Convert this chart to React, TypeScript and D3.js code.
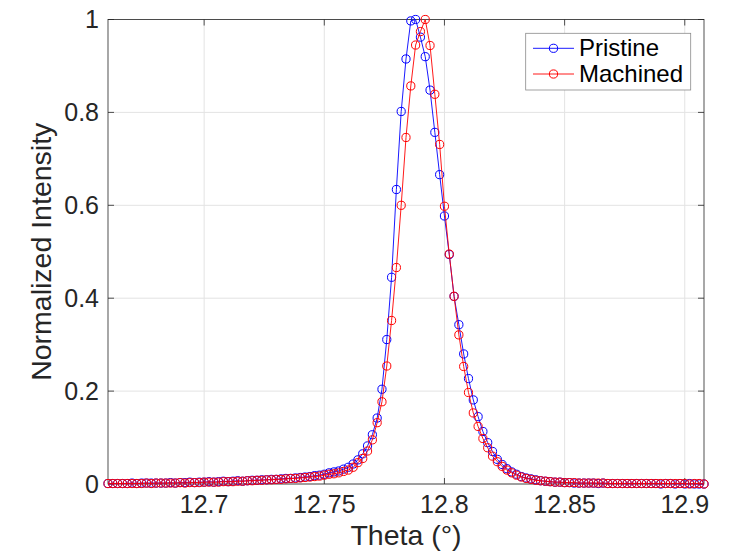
import React from "react";
import * as d3 from "d3";

const theta = [
  12.660, 12.662, 12.664, 12.666, 12.668, 12.670, 12.672, 12.674, 12.676, 12.678,
  12.680, 12.682, 12.684, 12.686, 12.688, 12.690, 12.692, 12.694, 12.696, 12.698,
  12.700, 12.702, 12.704, 12.706, 12.708, 12.710, 12.712, 12.714, 12.716, 12.718,
  12.720, 12.722, 12.724, 12.726, 12.728, 12.730, 12.732, 12.734, 12.736, 12.738,
  12.740, 12.742, 12.744, 12.746, 12.748, 12.750, 12.752, 12.754, 12.756, 12.758,
  12.760, 12.762, 12.764, 12.766, 12.768, 12.770, 12.772, 12.774, 12.776, 12.778,
  12.780, 12.782, 12.784, 12.786, 12.788, 12.790, 12.792, 12.794, 12.796, 12.798,
  12.800, 12.802, 12.804, 12.806, 12.808, 12.810, 12.812, 12.814, 12.816, 12.818,
  12.820, 12.822, 12.824, 12.826, 12.828, 12.830, 12.832, 12.834, 12.836, 12.838,
  12.840, 12.842, 12.844, 12.846, 12.848, 12.850, 12.852, 12.854, 12.856, 12.858,
  12.860, 12.862, 12.864, 12.866, 12.868, 12.870, 12.872, 12.874, 12.876, 12.878,
  12.880, 12.882, 12.884, 12.886, 12.888, 12.890, 12.892, 12.894, 12.896, 12.898,
  12.900, 12.902, 12.904, 12.906, 12.908,
];

const pristine = [
  0.001, 0.001, 0.001, 0.001, 0.001, 0.002, 0.001, 0.002, 0.002, 0.002,
  0.002, 0.002, 0.002, 0.003, 0.002, 0.003, 0.003, 0.004, 0.003, 0.004,
  0.004, 0.005, 0.004, 0.005, 0.006, 0.005, 0.006, 0.007, 0.006, 0.007,
  0.008, 0.008, 0.009, 0.009, 0.010, 0.010, 0.011, 0.012, 0.012, 0.013,
  0.014, 0.015, 0.016, 0.018, 0.019, 0.021, 0.024, 0.026, 0.028, 0.032,
  0.036, 0.043, 0.052, 0.065, 0.082, 0.106, 0.142, 0.204, 0.311, 0.445,
  0.634, 0.802, 0.915, 0.997, 1.000, 0.962, 0.920, 0.848, 0.757, 0.666,
  0.577, 0.494, 0.404, 0.343, 0.280, 0.227, 0.181, 0.145, 0.113, 0.089,
  0.070, 0.053, 0.042, 0.033, 0.026, 0.021, 0.016, 0.013, 0.011, 0.009,
  0.007, 0.006, 0.005, 0.004, 0.004, 0.003, 0.003, 0.002, 0.002, 0.002,
  0.002, 0.002, 0.001, 0.002, 0.001, 0.001, 0.001, 0.001, 0.001, 0.001,
  0.001, 0.001, 0.001, 0.001, 0.001, 0.000, 0.001, 0.001, 0.000, 0.001,
  0.000, 0.001, 0.000, 0.000, 0.000,
];

const machined = [
  0.001, 0.001, 0.001, 0.001, 0.001, 0.001, 0.001, 0.001, 0.002, 0.001,
  0.002, 0.002, 0.002, 0.002, 0.002, 0.003, 0.002, 0.003, 0.003, 0.003,
  0.004, 0.004, 0.004, 0.004, 0.005, 0.005, 0.005, 0.006, 0.006, 0.007,
  0.007, 0.008, 0.008, 0.009, 0.009, 0.010, 0.010, 0.011, 0.012, 0.012,
  0.013, 0.014, 0.015, 0.016, 0.017, 0.019, 0.021, 0.022, 0.024, 0.027,
  0.030, 0.036, 0.046, 0.055, 0.071, 0.095, 0.132, 0.177, 0.254, 0.352,
  0.466, 0.600, 0.746, 0.857, 0.945, 0.974, 1.000, 0.944, 0.839, 0.731,
  0.598, 0.495, 0.404, 0.321, 0.253, 0.197, 0.153, 0.124, 0.098, 0.078,
  0.060, 0.048, 0.038, 0.030, 0.024, 0.019, 0.015, 0.012, 0.010, 0.008,
  0.007, 0.006, 0.005, 0.004, 0.004, 0.003, 0.003, 0.003, 0.002, 0.002,
  0.002, 0.002, 0.002, 0.002, 0.001, 0.001, 0.001, 0.001, 0.001, 0.001,
  0.001, 0.001, 0.001, 0.001, 0.001, 0.001, 0.001, 0.001, 0.001, 0.001,
  0.001, 0.000, 0.001, 0.001, 0.000,
];

const xTicks = [12.7, 12.75, 12.8, 12.85, 12.9];
const xTickLabels = ["12.7", "12.75", "12.8", "12.85", "12.9"];
const yTicks = [0, 0.2, 0.4, 0.6, 0.8, 1];
const yTickLabels = ["0", "0.2", "0.4", "0.6", "0.8", "1"];
const seriesNames = ["Pristine", "Machined"];
const seriesColors = ["#0000ff", "#ff0000"];

const W = 735;
const H = 552;
const L = 108;
const R = 704;
const T = 19.5;
const B = 484;
const FONT = "'Liberation Sans', Arial, Helvetica, sans-serif";
const AXC = "#262626";

export default function App() {
  const x = d3.scaleLinear().domain([theta[0], theta[theta.length - 1]]).range([L, R]);
  const y = d3.scaleLinear().domain([0, 1]).range([B, T]);
  const line = d3
    .line<[number, number]>()
    .x((d) => x(d[0]))
    .y((d) => y(d[1]));
  const series = [pristine, machined].map((vals) =>
    theta.map((t, i) => [t, vals[i]] as [number, number])
  );
  const tickLen = 6;
  const mr = 4.1;

  return (
    <svg
      width={W}
      height={H}
      style={{ position: "absolute", left: 0, top: 0, background: "#fff" }}
      fontFamily={FONT}
    >
      <rect x={0} y={0} width={W} height={H} fill="#fff" />
      {xTicks.map((t) => (
        <line key={"gx" + t} x1={x(t)} x2={x(t)} y1={T} y2={B} stroke="#e3e3e3" strokeWidth={1} />
      ))}
      {yTicks.map((t) => (
        <line key={"gy" + t} x1={L} x2={R} y1={y(t)} y2={y(t)} stroke="#e3e3e3" strokeWidth={1} />
      ))}
      <rect x={L} y={T} width={R - L} height={B - T} fill="none" stroke={AXC} strokeWidth={0.8} />
      {xTicks.map((t) => (
        <g key={"tx" + t}>
          <line x1={x(t)} x2={x(t)} y1={B} y2={B - tickLen} stroke={AXC} strokeWidth={0.8} />
          <line x1={x(t)} x2={x(t)} y1={T} y2={T + tickLen} stroke={AXC} strokeWidth={0.8} />
        </g>
      ))}
      {yTicks.map((t) => (
        <g key={"ty" + t}>
          <line x1={L} x2={L + tickLen} y1={y(t)} y2={y(t)} stroke={AXC} strokeWidth={0.8} />
          <line x1={R} x2={R - tickLen} y1={y(t)} y2={y(t)} stroke={AXC} strokeWidth={0.8} />
        </g>
      ))}
      {xTicks.map((t, i) => (
        <text key={"lx" + t} x={x(t)} y={513} textAnchor="middle" fontSize={25} fill={AXC}>
          {xTickLabels[i]}
        </text>
      ))}
      {yTicks.map((t, i) => (
        <text key={"ly" + t} x={99} y={y(t) + 8.5} textAnchor="end" fontSize={25} fill={AXC}>
          {yTickLabels[i]}
        </text>
      ))}
      <text x={(L + R) / 2} y={545} textAnchor="middle" fontSize={28.5} fill={AXC}>
        Theta (°)
      </text>
      <text
        transform={`translate(51,${(T + B) / 2}) rotate(-90)`}
        textAnchor="middle"
        fontSize={28.5}
        fill={AXC}
      >
        Normalized Intensity
      </text>
      {series.map((s, k) => (
        <g key={"s" + k}>
          <path d={line(s) || ""} fill="none" stroke={seriesColors[k]} strokeWidth={0.9} />
          {s.map((d, i) => (
            <circle
              key={i}
              cx={x(d[0])}
              cy={y(d[1])}
              r={mr}
              fill="none"
              stroke={seriesColors[k]}
              strokeWidth={1}
            />
          ))}
        </g>
      ))}
      <rect x={525.7} y={33.3} width={165} height={56.7} fill="#fff" stroke="#8a8a8a" strokeWidth={0.8} />
      {seriesNames.map((n, k) => {
        const cy = 48.3 + k * 25.7;
        return (
          <g key={"lg" + k}>
            <line x1={533} x2={574} y1={cy} y2={cy} stroke={seriesColors[k]} strokeWidth={0.9} />
            <circle cx={553.5} cy={cy} r={mr} fill="none" stroke={seriesColors[k]} strokeWidth={1} />
            <text x={579} y={cy + 8} fontSize={24} fill="#000">
              {n}
            </text>
          </g>
        );
      })}
    </svg>
  );
}
